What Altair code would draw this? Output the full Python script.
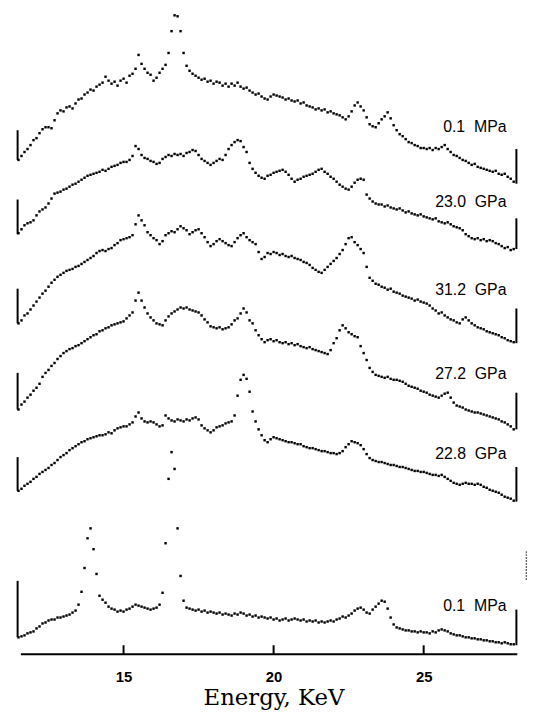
import altair as alt
import pandas as pd

# Energy grid of the spectra (keV)
energy_start = 11.5
energy_step = 0.1

# Spectra (relative counts above each trace's own base), top to bottom
t1 = [0, 4, 8, 11, 15, 20, 22, 27, 31, 33,
      33, 32, 40, 47, 50, 49, 53, 54, 52, 57,
      61, 62, 66, 68, 71, 70, 74, 76, 78, 84,
      80, 77, 79, 75, 80, 82, 78, 85, 87, 92,
      106, 97, 92, 88, 86, 80, 83, 88, 92, 96,
      108, 130, 146, 145, 130, 108, 95, 90, 87, 85,
      83, 81, 82, 79, 80, 77, 79, 78, 75, 77,
      74, 77, 75, 78, 74, 72, 73, 70, 68, 66,
      67, 64, 62, 61, 64, 66, 65, 64, 63, 61,
      62, 60, 59, 60, 57, 58, 55, 54, 53, 51,
      52, 50, 51, 48, 49, 47, 46, 45, 43, 41,
      44, 49, 55, 58, 54, 50, 43, 36, 34, 33,
      37, 41, 44, 48, 42, 35, 30, 26, 24, 21,
      18, 17, 15, 14, 12, 12, 11, 12, 10, 12,
      11, 13, 15, 11, 8, 5, 4, 2, 0, -1,
      -3, -5, -4, -7, -8, -9, -10, -11, -12, -11,
      -14, -15, -14, -17, -19, -22]
t2 = [1, 5, 9, 11, 12, 14, 19, 23, 25, 27,
      31, 36, 41, 42, 43, 45, 46, 48, 50, 51,
      53, 55, 57, 59, 60, 61, 62, 63, 65, 64,
      66, 68, 69, 70, 72, 73, 73, 75, 79, 89,
      86, 80, 77, 76, 74, 73, 71, 72, 76, 78,
      80, 79, 81, 80, 81, 79, 82, 83, 85, 84,
      80, 76, 74, 72, 70, 72, 74, 76, 75, 80,
      86, 90, 93, 95, 94, 88, 83, 72, 66, 62,
      59, 57, 56, 59, 60, 62, 63, 64, 65, 63,
      60, 56, 53, 55, 56, 58, 59, 60, 61, 63,
      65, 66, 63, 61, 58, 56, 53, 50, 48, 46,
      45, 48, 52, 55, 56, 55, 40, 36, 33, 31,
      30, 30, 28, 29, 27, 26, 25, 26, 24, 22,
      23, 21, 20, 19, 20, 18, 17, 16, 15, 16,
      13, 12, 11, 12, 10, 8, 7, 6, 4, 0,
      -2, -4, -5, -4, -6, -5, -7, -6, -7, -9,
      -10, -12, -14, -13, -16, -15]
t3 = [0, 3, 8, 10, 14, 18, 22, 26, 30, 33,
      37, 41, 44, 47, 49, 51, 53, 54, 55, 57,
      58, 60, 62, 64, 66, 68, 71, 73, 74, 73,
      75, 76, 79, 81, 84, 85, 86, 87, 89, 100,
      109, 104, 99, 92, 89, 86, 84, 80, 83, 89,
      91, 93, 92, 95, 98, 96, 94, 90, 92, 94,
      95, 91, 87, 82, 78, 80, 83, 85, 83, 81,
      79, 78, 82, 86, 89, 91, 87, 84, 82, 80,
      72, 65, 67, 71, 70, 72, 71, 69, 70, 68,
      67, 68, 66, 65, 64, 62, 61, 59, 56, 54,
      52, 51, 54, 57, 60, 63, 66, 70, 74, 80,
      86, 87, 82, 79, 75, 71, 57, 46, 43, 40,
      39, 37, 36, 34, 35, 32, 31, 30, 28, 27,
      26, 25, 23, 24, 22, 21, 20, 18, 15, 13,
      10, 11, 8, 6, 4, 3, 1, 0, 4, 6,
      3, 0, -2, -4, -5, -6, -8, -9, -10, -11,
      -12, -14, -15, -17, -18, -19]
t4 = [0, 5, 8, 12, 15, 19, 22, 26, 33, 37,
      40, 44, 47, 51, 54, 57, 59, 61, 62, 64,
      65, 67, 69, 71, 73, 75, 76, 79, 80, 82,
      83, 85, 86, 87, 88, 89, 92, 95, 98, 110,
      118, 110, 103, 97, 93, 90, 87, 86, 85, 90,
      94, 97, 99, 101, 103, 102, 103, 101, 100, 99,
      98, 95, 91, 88, 84, 83, 82, 83, 81, 82,
      83, 86, 90, 92, 97, 102, 98, 90, 87, 80,
      75, 71, 68, 70, 71, 69, 70, 68, 67, 68,
      66, 67, 65, 66, 64, 63, 62, 63, 61, 60,
      59, 58, 57, 56, 60, 67, 72, 80, 85, 82,
      78, 76, 74, 73, 64, 57, 50, 42, 38, 35,
      34, 33, 32, 33, 31, 30, 30, 29, 28, 26,
      24, 23, 22, 21, 19, 18, 17, 15, 14, 13,
      12, 14, 16, 17, 12, 7, 4, 3, 2, 0,
      -1, -2, -3, -3, -4, -5, -6, -7, -8, -9,
      -10, -12, -13, -15, -17, -20]
t5 = [0, 2, 5, 7, 9, 12, 14, 17, 19, 21,
      23, 26, 28, 31, 34, 36, 38, 41, 43, 45,
      47, 49, 50, 52, 53, 54, 55, 56, 56, 57,
      59, 58, 61, 63, 64, 65, 65, 67, 69, 75,
      79, 73, 70, 69, 70, 69, 67, 65, 66, 76,
      73, 71, 70, 72, 71, 70, 72, 71, 73, 74,
      72, 66, 63, 61, 59, 61, 64, 65, 66, 68,
      69, 70, 76, 96, 112, 117, 113, 100, 80, 70,
      62, 56, 51, 49, 52, 54, 53, 52, 51, 50,
      49, 49, 48, 47, 47, 45, 44, 43, 43, 42,
      41, 40, 40, 39, 38, 38, 37, 38, 40, 44,
      47, 50, 49, 48, 46, 42, 37, 33, 31, 30,
      29, 29, 28, 27, 26, 26, 25, 24, 24, 23,
      22, 21, 20, 20, 19, 19, 18, 17, 16, 16,
      15, 16, 14, 12, 10, 8, 7, 6, 7, 8,
      7, 7, 6, 7, 6, 4, 3, 1, 0, -1,
      -2, -4, -6, -7, -8, -10]
t6 = [0, 1, 2, 4, 5, 6, 9, 11, 14, 15,
      17, 18, 18, 20, 20, 21, 22, 23, 25, 27,
      33, 46, 70, 100, 110, 89, 64, 42, 38, 35,
      31, 29, 28, 26, 27, 26, 28, 29, 31, 33,
      32, 31, 30, 29, 28, 29, 30, 33, 45, 95,
      160, 187, 170, 110, 62, 37, 30, 29, 28, 27,
      28, 26, 27, 25, 26, 25, 24, 25, 23, 24,
      23, 22, 24, 23, 25, 24, 22, 23, 21, 22,
      20, 21, 20, 19, 20, 18, 19, 17, 18, 19,
      17, 18, 19, 18, 17, 18, 16, 17, 16, 17,
      15, 16, 15, 16, 17, 16, 18, 19, 21, 20,
      22, 24, 27, 29, 30, 28, 25, 24, 28, 31,
      34, 37, 36, 29, 20, 13, 10, 9, 8, 7,
      7, 6, 6, 5, 6, 5, 5, 4, 6, 5,
      7, 8, 7, 6, 4, 3, 2, 2, 1, 0,
      0, -1, -1, -2, -2, -3, -3, -4, -4, -5,
      -5, -6, -5, -6, -7, -7]

spectra = [t1, t2, t3, t4, t5, t6]
pressures = ["0.1 MPa", "23.0 GPa", "31.2 GPa", "27.2 GPa", "22.8 GPa", "0.1 MPa"]
offsets = [499, 424, 334, 247, 165, 17]          # vertical stacking offsets
label_rel = [33, 32, 34, 36, 37, 32]
left_bar_top = [30, 35, 35, 37, 34, 57]
right_bar_lo = [-24, -15, -20, -20, -11, -8]
right_bar_hi = [11, 16, 15, 17, 24, 28]

x_ticks = [15, 20, 25]
axis_range = [11.58, 28.12]
left_bar_e = 11.47
right_bar_e = 28.09
label_e = 27.76

# ---------- tables ----------
rows = []
for k, vals in enumerate(spectra):
    for i, v in enumerate(vals):
        rows.append({"e": round(energy_start + energy_step * i, 2),
                     "y": offsets[k] + v, "trace": k})
pts = pd.DataFrame(rows)

bars = []
for k in range(6):
    bars.append({"e": left_bar_e, "y": offsets[k], "y2": offsets[k] + left_bar_top[k]})
    bars.append({"e": right_bar_e, "y": offsets[k] + right_bar_lo[k],
                 "y2": offsets[k] + right_bar_hi[k]})
bars = pd.DataFrame(bars)
extra_bar = pd.DataFrame([{"e": 28.42, "y": offsets[5] + 58, "y2": offsets[5] + 87}])

labels = pd.DataFrame({"e": [label_e] * 6,
                       "y": [offsets[k] + label_rel[k] for k in range(6)],
                       "text": [p.replace(" ", "\u00a0\u00a0") for p in pressures]})
axis_df = pd.DataFrame({"e": [axis_range[0]], "e2": [axis_range[1]], "y": [0]})
ticks_df = pd.DataFrame({"e": x_ticks, "y": [0] * 3, "y2": [9] * 3})

xscale = alt.Scale(domain=[11.15, 28.51], nice=False, zero=False)
yscale = alt.Scale(domain=[0, 649], nice=False, zero=False)
xaxis = alt.Axis(values=x_ticks, domain=False, ticks=False, tickSize=0, grid=False,
                 labelFontSize=15, labelFontWeight="bold", labelFont="Liberation Sans",
                 labelColor="black", labelPadding=16,
                 title="Energy, KeV", titleFont="DejaVu Serif", titleFontSize=23,
                 titleFontWeight="normal", titleColor="black",
                 titleX=268, titleY=51, titleBaseline="alphabetic", titleAlign="center")


def X():
    return alt.X("e:Q", scale=xscale, axis=xaxis, title="Energy, KeV")


def Y():
    return alt.Y("y:Q", scale=yscale, axis=None)


points = alt.Chart(pts).mark_square(size=6, color="black", opacity=1).encode(x=X(), y=Y())

bar_layer = alt.Chart(bars).mark_rule(color="black", strokeWidth=2).encode(
    x=X(), y=Y(), y2="y2:Q")

extra_layer = alt.Chart(extra_bar).mark_rule(color="#555555", strokeWidth=1.2,
                                             strokeDash=[2, 1]).encode(
    x=X(), y=Y(), y2="y2:Q")

axis_line = alt.Chart(axis_df).mark_rule(color="black", strokeWidth=2).encode(
    x=X(), x2="e2:Q", y=Y())

tick_layer = alt.Chart(ticks_df).mark_rule(color="black", strokeWidth=2).encode(
    x=X(), y=Y(), y2="y2:Q")

text_layer = alt.Chart(labels).mark_text(align="right", baseline="middle", fontSize=16,
                                         font="Liberation Sans", color="black").encode(
    x=X(), y=Y(), text="text:N")

chart = alt.layer(points, bar_layer, extra_layer, axis_line, tick_layer, text_layer).properties(
    width=526, height=649, padding=0, background="white"
).configure_view(strokeWidth=0)

chart.save("out.html", embed_options={"renderer": "svg", "actions": False})
